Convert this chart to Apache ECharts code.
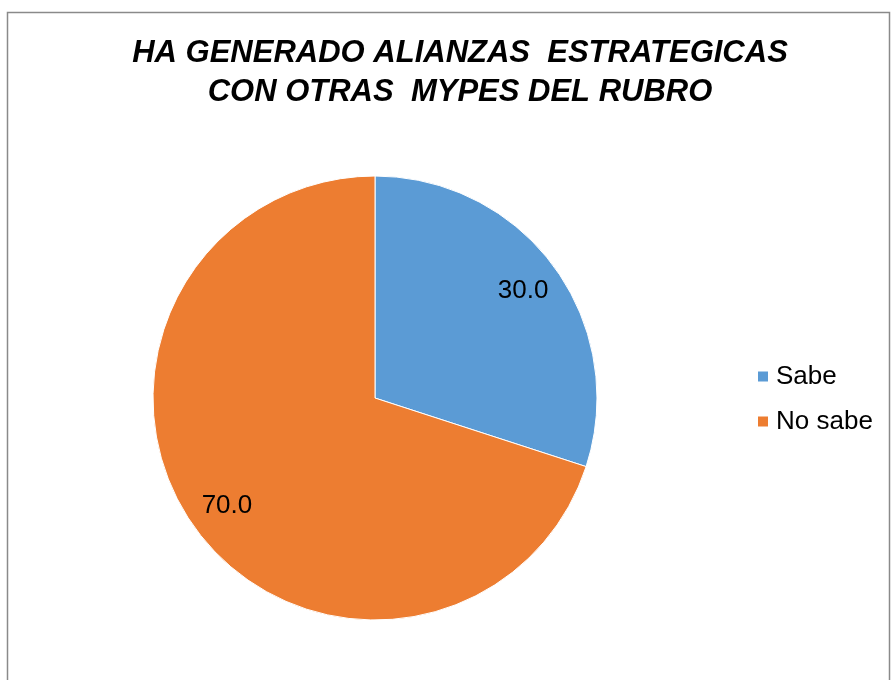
<!DOCTYPE html>
<html lang="es">
<head>
<meta charset="UTF-8">
<title>Alianzas estrategicas</title>
<script src="https://cdn.jsdelivr.net/npm/echarts@6/dist/echarts.min.js"></script>
<style>
  html, body { margin: 0; padding: 0; background: #fff; }
  #chart { width: 891px; height: 680px; }
</style>
</head>
<body>
<div id="chart"></div>
<script type="text/javascript">
    // datos del grafico
    var categorias = ['Sabe', 'No sabe'];
    var valores = [30.0, 70.0];
    var colores = ['#5B9BD5', '#ED7D31'];
    var titulo = 'HA GENERADO ALIANZAS  ESTRATEGICAS\nCON OTRAS  MYPES DEL RUBRO';

    var datos = [];
    for (var i = 0; i < categorias.length; i++) {
        datos.push({ name: categorias[i], value: valores[i] });
    }

    var myChart = echarts.init(document.getElementById('chart'));
    myChart.setOption({
        color: colores,
        animation: false,
        textStyle: { fontFamily: '"Liberation Sans", Arial, sans-serif' },
        title: {
            text: titulo,
            left: 455,
            top: 29,
            textAlign: 'center',
            textStyle: {
                fontSize: 31,
                fontWeight: 'bold',
                fontStyle: 'italic',
                color: '#000',
                lineHeight: 39
            }
        },
        legend: {
            orient: 'vertical',
            left: 751,
            top: 358,
            itemWidth: 12,
            itemHeight: 12,
            itemGap: 18,
            icon: 'rect',
            textStyle: { fontSize: 26, color: '#000', lineHeight: 27, padding: [0, 0, 0, 2] },
            data: categorias
        },
        // marco del grafico
        graphic: [{
            type: 'rect',
            shape: { x: 7.5, y: 12.5, width: 882, height: 700 },
            style: { fill: 'none', stroke: '#8a8a8a', lineWidth: 1.5 },
            silent: true
        }],
        series: [{
            name: 'Alianzas',
            type: 'pie',
            center: [375, 398],
            radius: [0, 222],
            startAngle: 90,
            clockwise: true,
            itemStyle: { borderColor: '#fff', borderWidth: 1 },
            label: { show: false },
            labelLine: { show: false },
            emphasis: { disabled: true },
            data: datos
        }, {
            // serie transparente solo para ubicar las etiquetas
            name: 'etiquetas',
            type: 'pie',
            center: [375, 398],
            radius: [0, 360],
            startAngle: 90,
            clockwise: true,
            silent: true,
            itemStyle: { color: 'rgba(0,0,0,0)', borderWidth: 0 },
            label: {
                show: true,
                position: 'inside',
                fontSize: 26,
                color: '#000',
                formatter: function (p) { return p.value.toFixed(1); }
            },
            labelLine: { show: false },
            emphasis: { disabled: true },
            data: datos
        }]
    });
</script>
</body>
</html>
